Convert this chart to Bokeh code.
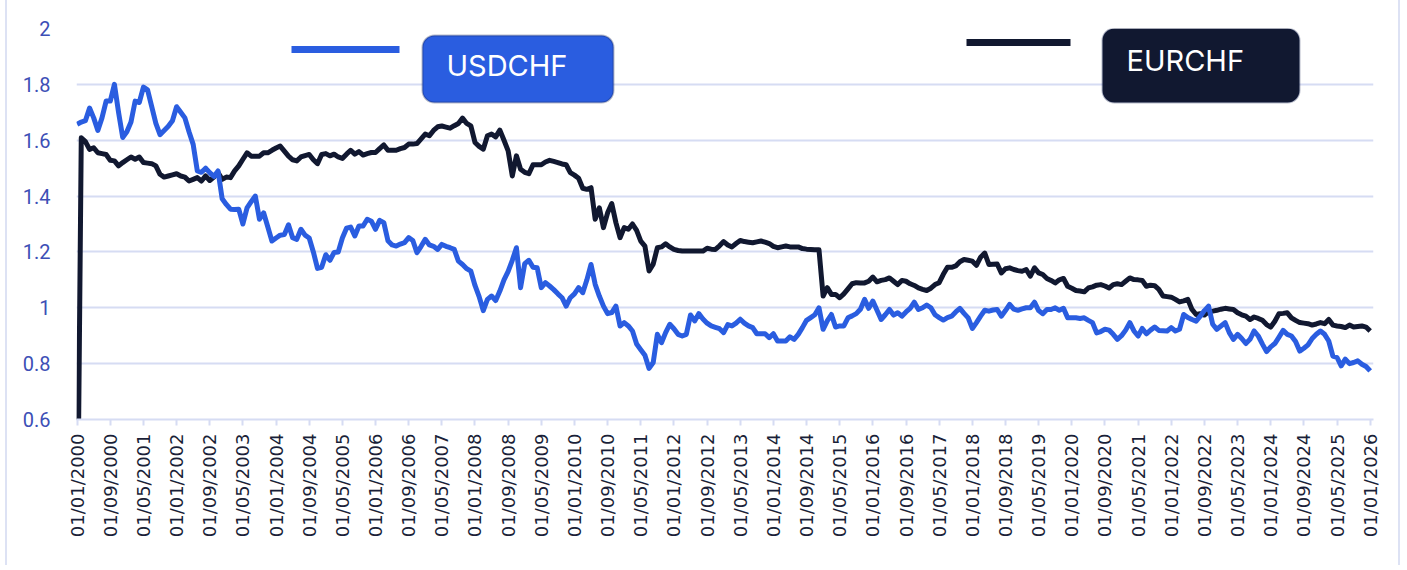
import math
from bokeh.plotting import figure
from bokeh.models import Range1d, FixedTicker, CustomJSTickFormatter, BoxAnnotation, Label
from bokeh.embed import file_html
from bokeh.resources import INLINE

# ---------------- data (monthly, 01/2000 .. 01/2026) ----------------
usdchf = [
    1.657, 1.665, 1.67, 1.715, 1.68, 1.635, 1.68, 1.74, 1.74, 1.80, 1.70, 1.61,      # 2000
    1.63, 1.665, 1.74, 1.735, 1.79, 1.78, 1.72, 1.66, 1.62, 1.635, 1.65, 1.67,       # 2001
    1.72, 1.70, 1.68, 1.63, 1.585, 1.49, 1.485, 1.50, 1.484, 1.47, 1.49, 1.39,       # 2002
    1.37, 1.353, 1.352, 1.353, 1.30, 1.358, 1.38, 1.40, 1.317, 1.34, 1.29, 1.239,    # 2003
    1.25, 1.26, 1.262, 1.297, 1.251, 1.245, 1.281, 1.26, 1.25, 1.20, 1.141, 1.145,   # 2004
    1.19, 1.17, 1.198, 1.20, 1.25, 1.285, 1.289, 1.257, 1.293, 1.293, 1.317, 1.31,   # 2005
    1.281, 1.313, 1.305, 1.24, 1.225, 1.221, 1.228, 1.233, 1.251, 1.241, 1.197, 1.22,  # 2006
    1.245, 1.225, 1.22, 1.209, 1.227, 1.22, 1.215, 1.209, 1.167, 1.155, 1.14, 1.131,   # 2007
    1.08, 1.04, 0.99, 1.03, 1.042, 1.026, 1.06, 1.10, 1.13, 1.17, 1.215, 1.072,        # 2008
    1.158, 1.17, 1.145, 1.143, 1.072, 1.09, 1.078, 1.065, 1.05, 1.036, 1.006, 1.036,   # 2009
    1.05, 1.072, 1.054, 1.10, 1.155, 1.084, 1.042, 1.006, 0.979, 0.983, 1.006, 0.935,  # 2010
    0.947, 0.935, 0.917, 0.87, 0.85, 0.83, 0.783, 0.804, 0.905, 0.875, 0.911, 0.941,   # 2011
    0.925, 0.905, 0.899, 0.905, 0.974, 0.953, 0.979, 0.96, 0.945, 0.935, 0.93, 0.925,  # 2012
    0.911, 0.94, 0.935, 0.945, 0.959, 0.945, 0.935, 0.929, 0.907, 0.907, 0.907, 0.893, # 2013
    0.907, 0.881, 0.881, 0.881, 0.896, 0.887, 0.905, 0.929, 0.955, 0.965, 0.975, 1.0,  # 2014
    0.923, 0.953, 0.976, 0.931, 0.935, 0.935, 0.964, 0.971, 0.979, 0.995, 1.03, 0.998, # 2015
    1.024, 0.991, 0.958, 0.975, 0.994, 0.974, 0.982, 0.970, 0.985, 0.998, 1.02, 0.994, # 2016
    1.0, 1.01, 1.0, 0.975, 0.965, 0.956, 0.965, 0.970, 0.985, 0.998, 0.98, 0.964,      # 2017
    0.926, 0.947, 0.97, 0.991, 0.988, 0.992, 0.994, 0.970, 0.99, 1.012, 0.995, 0.991,  # 2018
    0.996, 1.0, 1.0, 1.02, 0.99, 0.979, 0.994, 0.994, 1.0, 0.991, 0.998, 0.964,        # 2019
    0.964, 0.964, 0.962, 0.964, 0.955, 0.947, 0.91, 0.915, 0.923, 0.92, 0.905, 0.887,  # 2020
    0.9, 0.92, 0.947, 0.917, 0.899, 0.926, 0.907, 0.92, 0.931, 0.919, 0.918, 0.917,    # 2021
    0.929, 0.917, 0.923, 0.976, 0.965, 0.958, 0.952, 0.970, 0.99, 1.006, 0.941, 0.923, # 2022
    0.935, 0.947, 0.911, 0.887, 0.905, 0.890, 0.872, 0.887, 0.917, 0.899, 0.87, 0.843, # 2023
    0.86, 0.872, 0.895, 0.919, 0.905, 0.899, 0.879, 0.845, 0.855, 0.867, 0.89, 0.905,  # 2024
    0.917, 0.905, 0.881, 0.827, 0.822, 0.792, 0.816, 0.8, 0.804, 0.81, 0.798, 0.79,    # 2025
    0.774,                                                                             # 2026
]

eurchf = [
    0.0, 1.609, 1.595, 1.567, 1.573, 1.555, 1.552, 1.549, 1.528, 1.526, 1.508, 1.52,   # 2000
    1.53, 1.54, 1.532, 1.54, 1.52, 1.518, 1.516, 1.508, 1.478, 1.468, 1.472, 1.476,    # 2001
    1.48, 1.472, 1.468, 1.454, 1.46, 1.466, 1.454, 1.472, 1.456, 1.468, 1.484, 1.46,   # 2002
    1.468, 1.466, 1.49, 1.508, 1.532, 1.555, 1.543, 1.543, 1.543, 1.555, 1.555, 1.564, # 2003
    1.572, 1.579, 1.561, 1.543, 1.53, 1.526, 1.54, 1.545, 1.549, 1.53, 1.516, 1.549,   # 2004
    1.552, 1.544, 1.55, 1.54, 1.535, 1.55, 1.564, 1.55, 1.559, 1.547, 1.552, 1.556,    # 2005
    1.556, 1.57, 1.583, 1.564, 1.564, 1.564, 1.57, 1.574, 1.586, 1.586, 1.588, 1.605,  # 2006
    1.622, 1.616, 1.635, 1.648, 1.651, 1.647, 1.643, 1.652, 1.66, 1.679, 1.66, 1.651,  # 2007
    1.592, 1.578, 1.568, 1.616, 1.622, 1.612, 1.636, 1.60, 1.562, 1.472, 1.544, 1.496, # 2008
    1.485, 1.48, 1.512, 1.512, 1.512, 1.522, 1.528, 1.524, 1.52, 1.515, 1.512, 1.484,  # 2009
    1.475, 1.464, 1.428, 1.424, 1.43, 1.317, 1.358, 1.287, 1.34, 1.373, 1.305, 1.251,  # 2010
    1.287, 1.281, 1.30, 1.277, 1.239, 1.221, 1.132, 1.156, 1.215, 1.218, 1.229, 1.218, # 2011
    1.209, 1.205, 1.203, 1.203, 1.203, 1.203, 1.203, 1.203, 1.213, 1.21, 1.209, 1.222, # 2012
    1.237, 1.225, 1.218, 1.23, 1.241, 1.237, 1.235, 1.233, 1.236, 1.239, 1.235, 1.23,  # 2013
    1.22, 1.215, 1.218, 1.221, 1.218, 1.218, 1.218, 1.212, 1.21, 1.209, 1.208, 1.208,  # 2014
    1.042, 1.072, 1.048, 1.048, 1.036, 1.05, 1.068, 1.086, 1.09, 1.089, 1.089, 1.095,  # 2015
    1.11, 1.093, 1.098, 1.101, 1.107, 1.095, 1.083, 1.098, 1.095, 1.086, 1.08, 1.071,  # 2016
    1.066, 1.062, 1.07, 1.083, 1.09, 1.12, 1.145, 1.145, 1.15, 1.165, 1.173, 1.17,     # 2017
    1.167, 1.152, 1.181, 1.196, 1.155, 1.156, 1.157, 1.125, 1.14, 1.143, 1.137, 1.133, # 2018
    1.131, 1.137, 1.113, 1.143, 1.125, 1.119, 1.105, 1.098, 1.089, 1.1, 1.105, 1.077,  # 2019
    1.07, 1.062, 1.06, 1.057, 1.071, 1.075, 1.081, 1.083, 1.078, 1.071, 1.083, 1.086,  # 2020
    1.083, 1.095, 1.107, 1.101, 1.1, 1.098, 1.077, 1.081, 1.079, 1.066, 1.042, 1.04,   # 2021
    1.038, 1.03, 1.021, 1.025, 1.03, 0.994, 0.976, 0.979, 0.974, 0.986, 0.988, 0.991,  # 2022
    0.995, 0.998, 0.996, 0.994, 0.982, 0.975, 0.970, 0.958, 0.967, 0.962, 0.955, 0.94, # 2023
    0.931, 0.952, 0.979, 0.98, 0.982, 0.964, 0.955, 0.947, 0.945, 0.943, 0.938, 0.942, # 2024
    0.947, 0.943, 0.958, 0.938, 0.935, 0.933, 0.929, 0.938, 0.931, 0.933, 0.935, 0.931, # 2025
    0.917,                                                                             # 2026
]

tick_labels = [
    "01/01/2000", "01/09/2000", "01/05/2001", "01/01/2002", "01/09/2002", "01/05/2003",
    "01/01/2004", "01/09/2004", "01/05/2005", "01/01/2006", "01/09/2006", "01/05/2007",
    "01/01/2008", "01/09/2008", "01/05/2009", "01/01/2010", "01/09/2010", "01/05/2011",
    "01/01/2012", "01/09/2012", "01/05/2013", "01/01/2014", "01/09/2014", "01/05/2015",
    "01/01/2016", "01/09/2016", "01/05/2017", "01/01/2018", "01/09/2018", "01/05/2019",
    "01/01/2020", "01/09/2020", "01/05/2021", "01/01/2022", "01/09/2022", "01/05/2023",
    "01/01/2024", "01/09/2024", "01/05/2025", "01/01/2026",
]
y_ticks = [0.6, 0.8, 1, 1.2, 1.4, 1.6, 1.8, 2]
series_names = ["USDCHF", "EURCHF"]

assert len(usdchf) == len(eurchf) == 313

months = list(range(len(usdchf)))          # month index since 01/2000
x_ticks = months[::8]                      # one label every 8 months

# ---------------- styling ----------------
BLUE = "#2a5de0"
NAVY = "#111830"
GRID = "#d6dcf3"

OX = 7                                      # left offset of canvas content on the page
W, H = 1395, 565
ML, MR, MT, MB = 69, 29, 28, 146
X0, X1 = -0.15, 312.8
Y0, Y1 = 0.6, 2.0
FW, FH = W - ML - MR, H - MT - MB

p = figure(width=W, height=H, output_backend="svg", toolbar_location=None,
           x_range=Range1d(X0, X1), y_range=Range1d(Y0, Y1),
           min_border_left=ML, min_border_right=MR, min_border_top=MT, min_border_bottom=MB)
p.outline_line_color = None
p.background_fill_color = "white"
p.border_fill_color = "white"
p.styles = {"margin-left": "5px",
            "border-left": "2px solid #dde2f4", "border-right": "2px solid #dde2f4"}

p.xgrid.visible = False
p.ygrid.grid_line_color = GRID
p.ygrid.grid_line_width = 2

# y axis
p.yaxis.ticker = FixedTicker(ticks=y_ticks)
p.yaxis.formatter = CustomJSTickFormatter(code="return tick.toString()")
p.yaxis.axis_line_color = None
p.yaxis.major_tick_line_color = None
p.yaxis.minor_tick_line_color = None
p.yaxis.major_label_standoff = 20
p.yaxis.major_label_text_font = "Roboto"
p.yaxis.major_label_text_font_size = "20px"
p.yaxis.major_label_text_color = "#3d4fb6"

# x axis
p.xaxis.ticker = FixedTicker(ticks=x_ticks)
p.xaxis.major_label_overrides = dict(zip(x_ticks, tick_labels))
p.xaxis.major_label_orientation = math.pi / 2      # reads bottom-to-top
p.xaxis.axis_line_color = GRID
p.xaxis.axis_line_width = 2
p.xaxis.major_tick_line_color = GRID
p.xaxis.major_tick_line_width = 2
p.xaxis.major_tick_in = 0
p.xaxis.major_tick_out = 6
p.xaxis.minor_tick_line_color = None
p.xaxis.major_label_standoff = 8
p.xaxis.major_label_text_font = "DejaVu Sans"
p.xaxis.major_label_text_font_size = "18px"
p.xaxis.major_label_text_color = "#1a1f38"

# series
p.line(months, eurchf, line_width=5, color=NAVY, line_join="round")
p.line(months, usdchf, line_width=5, color=BLUE, line_join="round")

# ---------------- custom legend (positions given in page pixels) ----------------
def dx(px):
    return X0 + (px - OX - ML) * (X1 - X0) / FW

def dy(py):
    return Y1 - (py - MT) * (Y1 - Y0) / FH

legend_items = [
    # name, colour, line x0, x1, y, box left, right, top, bottom, text x, text y
    (series_names[0], BLUE, 291, 399, 49, 422, 613, 35, 102, 446, 65),
    (series_names[1], NAVY, 966, 1070, 42, 1102, 1299, 28, 102, 1126, 60),
]
for name, col, lx0, lx1, ly, bl, br, bt, bb, tx, ty in legend_items:
    p.segment(x0=[dx(lx0)], y0=[dy(ly)], x1=[dx(lx1)], y1=[dy(ly)],
              line_width=7, color=col, line_cap="butt")
    p.add_layout(BoxAnnotation(left=dx(bl), right=dx(br), top=dy(bt), bottom=dy(bb),
                               fill_color=col, fill_alpha=1.0,
                               line_color="#0f1f4d", line_width=2, border_radius=12))
    p.add_layout(Label(x=dx(tx), y=dy(ty), text=name, text_color="white",
                       text_font="Inter", text_font_size="29px",
                       text_baseline="middle", text_align="left"))

open("out.html", "w").write(file_html(p, INLINE))
